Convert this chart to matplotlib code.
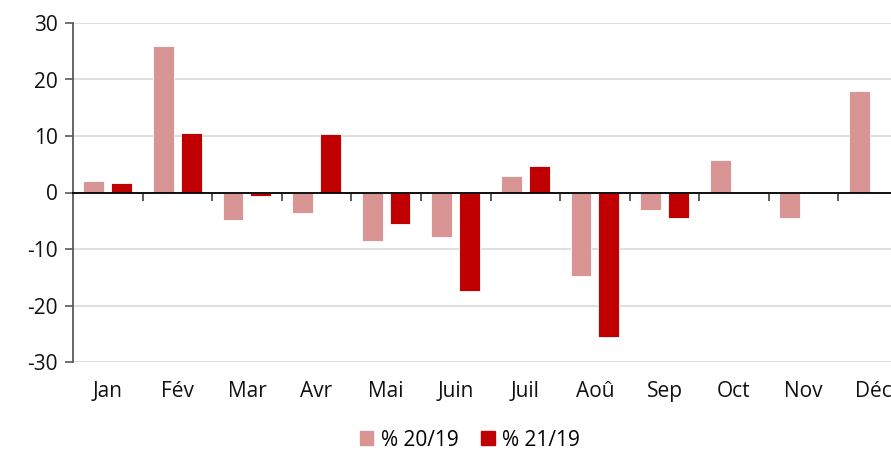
import matplotlib
matplotlib.use("Agg")
import matplotlib.pyplot as plt
import numpy as np
from matplotlib.patches import Patch

plt.rcParams["font.family"] = ["Open Sans", "DejaVu Sans"]
plt.rcParams["axes.unicode_minus"] = False

months = ["Jan", "Fév", "Mar", "Avr", "Mai", "Juin", "Juil", "Aoû", "Sep", "Oct", "Nov", "Déc"]
pct_20_19 = [2.1, 26.0, -4.9, -3.6, -8.6, -7.8, 2.9, -14.7, -3.1, 5.7, -4.5, 17.9]
pct_21_19 = [1.6, 10.6, -0.7, 10.3, -5.6, -17.5, 4.7, -25.5, -4.5, np.nan, np.nan, np.nan]
series_labels = ["% 20/19", "% 21/19"]
yticks = [-30, -20, -10, 0, 10, 20, 30]

light = "#D99594"
dark = "#C00000"
fs = 15

fig = plt.figure(figsize=(8.91, 4.53), dpi=100)
ax = fig.add_axes([73 / 891, 91 / 453, 835 / 891, 339 / 453])

x = np.arange(len(months))
w = 0.30
off = 0.20
ax.bar(x - off, pct_20_19, w, color=light, edgecolor="white", linewidth=0.6, zorder=3)
ax.bar(x + off, pct_21_19, w, color=dark, edgecolor="white", linewidth=0.6, zorder=3)

ax.set_xlim(-0.5, len(months) - 0.5)
ax.set_ylim(-30, 30)
ax.set_yticks(yticks)
ax.yaxis.grid(True, color="#D9D9D9", linewidth=1.2, zorder=0)
ax.set_axisbelow(True)

for s in ["top", "right"]:
    ax.spines[s].set_visible(False)
ax.spines["left"].set_color("#595959")
ax.spines["left"].set_linewidth(1.3)
ax.spines["bottom"].set_position(("data", 0))
ax.spines["bottom"].set_color("black")
ax.spines["bottom"].set_linewidth(1.3)
ax.spines["bottom"].set_zorder(4)

# category boundary ticks on the zero line
ax.set_xticks(np.arange(0.5, len(months) - 0.5, 1.0))
ax.set_xticklabels([])
ax.tick_params(axis="x", direction="out", length=6, width=1.2, color="#404040")
ax.tick_params(axis="y", direction="out", length=6, width=1.2, color="#595959",
               labelsize=fs, labelcolor="#111111", pad=5)

# month labels along the bottom of the plot area
sec = ax.secondary_xaxis(0.0)
sec.set_xticks(x)
sec.set_xticklabels(months)
sec.tick_params(length=0, labelsize=fs, labelcolor="#111111", pad=14)
sec.spines["bottom"].set_visible(False)

handles = [Patch(color=light), Patch(color=dark)]
fig.legend(handles, series_labels, loc="center", bbox_to_anchor=(470 / 891, 1 - 440 / 453),
           ncol=2, frameon=False, fontsize=fs, handlelength=0.65, handleheight=0.65,
           handletextpad=0.35, columnspacing=1.1)

fig.savefig("out.png", dpi=100)
